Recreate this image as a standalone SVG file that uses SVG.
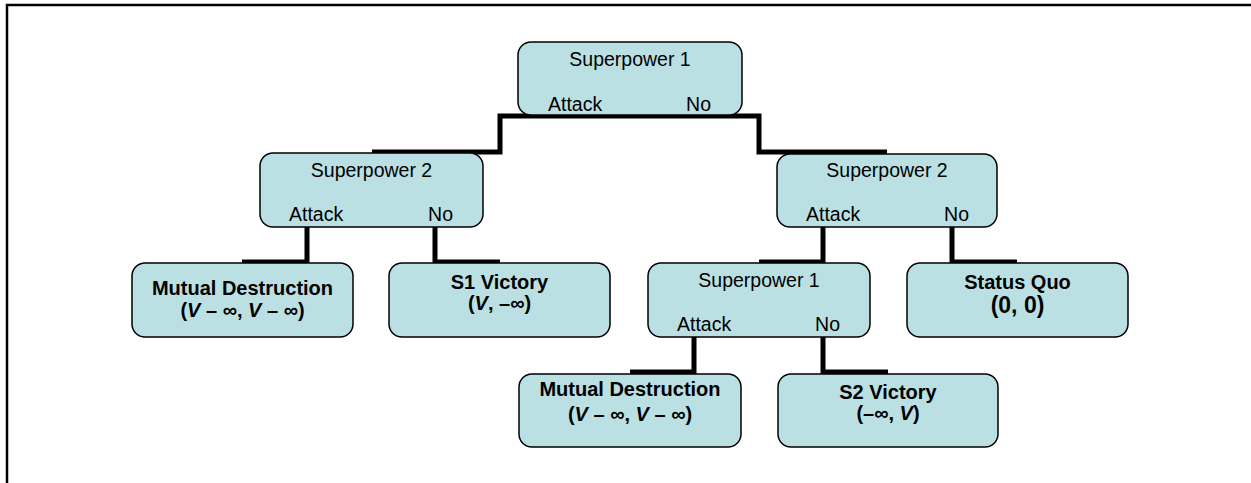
<svg xmlns="http://www.w3.org/2000/svg" width="1251" height="483" viewBox="0 0 1251 483">
<style>
.box{fill:#BBE0E3;stroke:#000;stroke-width:1.5}
.t{font-family:"Liberation Sans",Arial,sans-serif;font-size:19.5px;fill:#000}
.b{font-family:"Liberation Sans",Arial,sans-serif;font-size:20px;font-weight:bold;fill:#000}
.big{font-size:23px}
.c{text-anchor:middle}
.e{text-anchor:end}
.conn{fill:none;stroke:#000;stroke-width:5;stroke-linejoin:miter}
</style>
<rect x="0" y="0" width="1251" height="483" fill="#fff"/>
<rect x="7" y="5" width="1270" height="500" fill="none" stroke="#000" stroke-width="2.5"/>
<g id="connectors">
<path class="conn" d="M372,152 H500 V116 H630"/>
<path class="conn" d="M630,116 H759 V152 H887"/>
<path class="conn" d="M242,262 H307 V227"/>
<path class="conn" d="M435,227 V262 H500"/>
<path class="conn" d="M823,227 V262 H759"/>
<path class="conn" d="M952,227 V262 H1017"/>
<path class="conn" d="M630,372 H694 V337"/>
<path class="conn" d="M823,337 V372 H888"/>
</g>
<g id="root">
<rect class="box" x="518" y="42" width="224" height="73" rx="13"/>
<text class="t c" x="630" y="66">Superpower 1</text>
<text class="t" x="548" y="111">Attack</text>
<text class="t e" x="711" y="111">No</text>
</g>
<g id="sp2-left">
<rect class="box" x="260" y="153" width="223" height="74" rx="13"/>
<text class="t c" x="371.5" y="177">Superpower 2</text>
<text class="t" x="289" y="221">Attack</text>
<text class="t e" x="453" y="221">No</text>
</g>
<g id="sp2-right">
<rect class="box" x="777" y="154" width="220" height="73" rx="13"/>
<text class="t c" x="887" y="177">Superpower 2</text>
<text class="t" x="806" y="221">Attack</text>
<text class="t e" x="969" y="221">No</text>
</g>
<g id="md-left">
<rect class="box" x="132" y="263" width="221" height="74" rx="13"/>
<text class="b c" x="242.5" y="295">Mutual Destruction</text>
<text class="b c" x="242.5" y="317">(<tspan font-style="italic">V</tspan> – ∞, <tspan font-style="italic">V</tspan> – ∞)</text>
</g>
<g id="s1-victory">
<rect class="box" x="389" y="263" width="221" height="74" rx="13"/>
<text class="b c" x="499.5" y="289">S1 Victory</text>
<text class="b c" x="499.5" y="310">(<tspan font-style="italic">V</tspan>, –∞)</text>
</g>
<g id="sp1-lower">
<rect class="box" x="648" y="263" width="222" height="74" rx="13"/>
<text class="t c" x="759" y="287">Superpower 1</text>
<text class="t" x="677" y="331">Attack</text>
<text class="t e" x="840" y="331">No</text>
</g>
<g id="status-quo">
<rect class="box" x="907" y="263" width="221" height="74" rx="13"/>
<text class="b c" x="1017.5" y="289">Status Quo</text>
<text class="b big c" x="1017.5" y="313">(0, 0)</text>
</g>
<g id="md-lower">
<rect class="box" x="519" y="374" width="222" height="73" rx="13"/>
<text class="b c" x="630" y="396">Mutual Destruction</text>
<text class="b c" x="630" y="421">(<tspan font-style="italic">V</tspan> – ∞, <tspan font-style="italic">V</tspan> – ∞)</text>
</g>
<g id="s2-victory">
<rect class="box" x="778" y="374" width="220" height="73" rx="13"/>
<text class="b c" x="888" y="399">S2 Victory</text>
<text class="b c" x="888" y="420">(–∞, <tspan font-style="italic">V</tspan>)</text>
</g>
</svg>
